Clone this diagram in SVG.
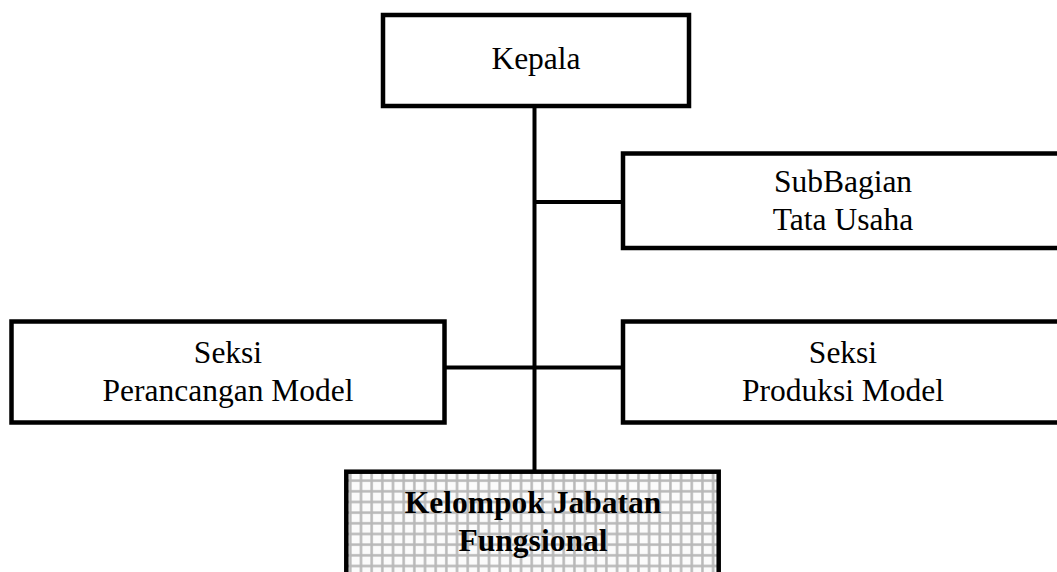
<svg xmlns="http://www.w3.org/2000/svg" width="1057" height="572" viewBox="0 0 1057 572">
  <style>
    .box { fill: #ffffff; stroke: #000000; stroke-width: 4.5; }
    .grid { fill: url(#grid); stroke: #000000; stroke-width: 4.5; }
    .conn { stroke: #000000; stroke-width: 4; fill: none; }
    .lbl { font-family: "Liberation Serif", "Times New Roman", serif; font-size: 31.5px; fill: #000000; text-anchor: middle; }
    .bold { font-weight: bold; }
  </style>
  <defs>
    <pattern id="grid" patternUnits="userSpaceOnUse" x="345" y="475.3" width="10.67" height="10.67">
      <rect width="10.67" height="10.67" fill="#fbfbfb"/>
      <line x1="5.33" y1="0" x2="5.33" y2="10.67" stroke="#b8b8b8" stroke-width="2.5"/>
      <line x1="0" y1="5.33" x2="10.67" y2="5.33" stroke="#b8b8b8" stroke-width="2.5"/>
    </pattern>
  </defs>
  <rect width="1057" height="572" fill="#ffffff"/>
  <g id="connectors">
    <line class="conn" x1="534.5" y1="106" x2="534.5" y2="472"/>
    <line class="conn" x1="534.5" y1="202" x2="623" y2="202"/>
    <line class="conn" x1="444" y1="367.5" x2="623" y2="367.5"/>
  </g>
  <g id="kepala">
    <rect class="box" x="383" y="15" width="306" height="91"/>
    <text class="lbl" x="536" y="69">Kepala</text>
  </g>
  <g id="subbagian">
    <rect class="box" x="623" y="153.5" width="480" height="94.5"/>
    <text class="lbl" x="843" y="192">SubBagian</text>
    <text class="lbl" x="843" y="230">Tata Usaha</text>
  </g>
  <g id="seksi-perancangan">
    <rect class="box" x="11.5" y="321.5" width="433" height="101"/>
    <text class="lbl" x="228" y="363">Seksi</text>
    <text class="lbl" x="228" y="401">Perancangan Model</text>
  </g>
  <g id="seksi-produksi">
    <rect class="box" x="623" y="321.5" width="480" height="101"/>
    <text class="lbl" x="843" y="363">Seksi</text>
    <text class="lbl" x="843" y="401">Produksi Model</text>
  </g>
  <g id="kelompok">
    <rect class="grid" x="346.3" y="471.7" width="372.4" height="200"/>
    <text class="lbl bold" x="533" y="513">Kelompok Jabatan</text>
    <text class="lbl bold" x="533" y="551">Fungsional</text>
  </g>
</svg>
